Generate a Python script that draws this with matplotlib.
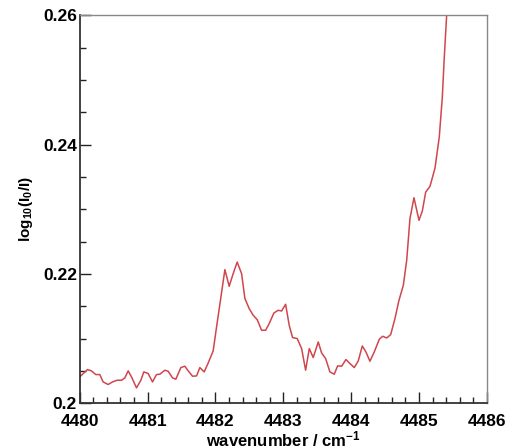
import numpy as np
import matplotlib
matplotlib.use('Agg')
import matplotlib.pyplot as plt
from matplotlib.ticker import MultipleLocator

# spectrum
wavenumber = [
    4480.015, 4480.113, 4480.172, 4480.236, 4480.295, 4480.344, 4480.418, 4480.482,
    4480.551, 4480.615, 4480.664, 4480.713, 4480.762, 4480.836, 4480.900, 4480.944,
    4481.008, 4481.072, 4481.131, 4481.180, 4481.254, 4481.303, 4481.367, 4481.416,
    4481.490, 4481.549, 4481.598, 4481.662, 4481.721, 4481.770, 4481.834, 4481.893,
    4481.966, 4482.016, 4482.075, 4482.139, 4482.202, 4482.261, 4482.320, 4482.385,
    4482.434, 4482.497, 4482.556, 4482.615, 4482.680, 4482.739, 4482.792, 4482.861,
    4482.925, 4482.975, 4483.034, 4483.087, 4483.137, 4483.205, 4483.270, 4483.329,
    4483.383, 4483.441, 4483.515, 4483.565, 4483.624, 4483.687, 4483.751, 4483.801,
    4483.860, 4483.923, 4483.993, 4484.046, 4484.105, 4484.164, 4484.218, 4484.277,
    4484.341, 4484.415, 4484.465, 4484.524, 4484.583, 4484.646, 4484.705, 4484.769,
    4484.819, 4484.867, 4484.926, 4485.000, 4485.049, 4485.099, 4485.162, 4485.236,
    4485.299, 4485.344, 4485.373, 4485.408, 4485.450,
]
absorbance = [
    0.20422, 0.20520, 0.20500, 0.20443, 0.20443, 0.20329, 0.20289, 0.20329,
    0.20355, 0.20355, 0.20391, 0.20500, 0.20407, 0.20237, 0.20355, 0.20484,
    0.20459, 0.20329, 0.20443, 0.20448, 0.20510, 0.20494, 0.20391, 0.20371,
    0.20551, 0.20572, 0.20500, 0.20417, 0.20422, 0.20551, 0.20484, 0.20623,
    0.20808, 0.21179, 0.21602, 0.22066, 0.21808, 0.22004, 0.22183, 0.22004,
    0.21618, 0.21463, 0.21360, 0.21293, 0.21128, 0.21128, 0.21231, 0.21395,
    0.21437, 0.21426, 0.21530, 0.21205, 0.21015, 0.21000, 0.20845, 0.20510,
    0.20845, 0.20706, 0.20947, 0.20777, 0.20690, 0.20484, 0.20448, 0.20577,
    0.20572, 0.20675, 0.20603, 0.20551, 0.20654, 0.20885, 0.20793, 0.20649,
    0.20793, 0.20989, 0.21035, 0.21009, 0.21061, 0.21309, 0.21591, 0.21823,
    0.22210, 0.22854, 0.23178, 0.22828, 0.22971, 0.23265, 0.23353, 0.23636,
    0.24115, 0.24733, 0.25351, 0.26000, 0.26800,
]

plt.rcParams['font.family'] = 'Liberation Sans'
plt.rcParams['font.weight'] = 'bold'
plt.rcParams['mathtext.fontset'] = 'custom'
plt.rcParams['mathtext.rm'] = 'Liberation Sans:bold'
plt.rcParams['mathtext.it'] = 'Liberation Sans:bold'
plt.rcParams['mathtext.bf'] = 'Liberation Sans:bold'

fig = plt.figure(figsize=(5.05, 4.48), dpi=100)
ax = fig.add_axes([0.158, 0.100, 0.806, 0.866])

ax.plot(wavenumber, absorbance, color='#d0464c', lw=1.1)

ax.set_xlim(4480, 4486)
ax.set_ylim(0.2, 0.26)

ax.xaxis.set_major_locator(MultipleLocator(1))
ax.xaxis.set_minor_locator(MultipleLocator(0.2))
ax.yaxis.set_minor_locator(MultipleLocator(0.005))
ax.set_yticks([0.2, 0.22, 0.24, 0.26])
ax.set_yticklabels(['0.2', '0.22', '0.24', '0.26'])

ax.tick_params(which='both', direction='in', top=False, right=False,
               labelsize=12.5, color='#222222')
ax.tick_params(which='major', length=8, width=1.0)
ax.tick_params(which='minor', length=4.5, width=1.0)
ax.tick_params(axis='x', pad=8)
ax.tick_params(axis='y', pad=2)

for s in ['left', 'bottom']:
    ax.spines[s].set_color('#333333')
    ax.spines[s].set_linewidth(1.3)
for s in ['top', 'right']:
    ax.spines[s].set_color('#888888')
    ax.spines[s].set_linewidth(1.0)

ax.set_xlabel('wavenumber / cm$^{-1}$', fontsize=12, fontweight='bold', labelpad=0)
ax.set_ylabel('log$_{10}$(I$_0$/I)', fontsize=11, fontweight='bold', labelpad=6)

plt.savefig('out.png', dpi=100)
